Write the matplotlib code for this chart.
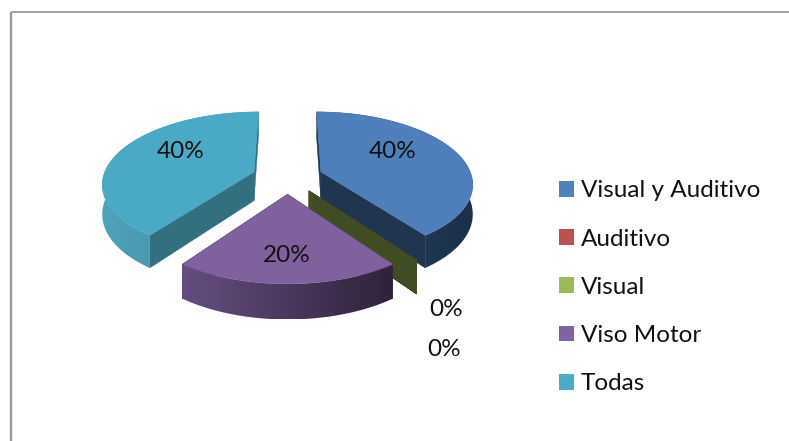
import numpy as np
import matplotlib
matplotlib.use('Agg')
import matplotlib.pyplot as plt
from matplotlib.colors import to_rgb
from matplotlib.patches import Patch, Polygon

# chart data
categories = ['Visual y Auditivo', 'Auditivo', 'Visual', 'Viso Motor', 'Todas']
values = [40, 0, 0, 20, 40]

# styles, one entry per slice
top_colors = ['#4f7fba', '#c0504d', '#9bbb59', '#7f619d', '#4aa9c4']
face_colors = ['#1f3550', '#5a2624', '#404d22', '#3a2a4a', '#32707f']
rim_left = ['#25466a', '#5a2624', '#404d22', '#654e80', '#4fa3bb']
rim_right = ['#1c3049', '#5a2624', '#404d22', '#30223b', '#3a8199']
legend_colors = ['#4f81bd', '#c0504d', '#9bbb59', '#8064a2', '#4bacc6']
label_xy = [(393, 151), (444, 349), (446, 309), (287, 255), (181, 151)]
draw_order = [4, 0, 1, 2, 3]

# projection of the pie plane into pixels
cx, cy = 287.5, 177
rx, ry = 151, 70.5
persp = 0.15
explode = 0.235
depth = 29


def project(u, v):
    s = 1 / (1 + persp * v)
    return cx + rx * u * s, cy - ry * v * s, depth * s


def ramp(c1, c2, n=64):
    a, b = np.array(to_rgb(c1)), np.array(to_rgb(c2))
    return (a + (b - a) * np.linspace(0, 1, n)[:, None])[None, :, :]


plt.rcParams['font.family'] = ['Lato', 'DejaVu Sans']
fig = plt.figure(figsize=(7.89, 4.41), dpi=100)
ax = fig.add_axes([0, 0, 1, 1])
ax.axis('off')

# chart border, only top and left are in the crop
ax.plot([11.5, 11.5], [441, 11.5], color='#999999', lw=1.7, solid_capstyle='butt')
ax.plot([11, 789], [11.5, 11.5], color='#8c8c8c', lw=1.1, solid_capstyle='butt')

edges = np.cumsum([0] + values) / sum(values) * 2 * np.pi

for rank, i in enumerate(draw_order):
    z = 2 + rank
    a0, a1 = edges[i], edges[i + 1]
    mid = (a0 + a1) / 2
    u0, v0 = explode * np.sin(mid), explode * np.cos(mid)
    theta = np.linspace(a0, a1, 120) if a1 > a0 else np.array([a0])
    arc = np.array([project(u0 + np.sin(t), v0 + np.cos(t)) for t in theta])
    apex = project(u0, v0)

    # the two cut faces
    for p in (arc[0], arc[-1]):
        quad = [(apex[0], apex[1]), (p[0], p[1]), (p[0], p[1] + p[2]), (apex[0], apex[1] + apex[2])]
        ax.add_patch(Polygon(quad, closed=True, fc=face_colors[i], ec=face_colors[i], lw=0.3, zorder=z))

    if len(arc) < 2:
        continue

    # outer rim, shaded from left to right
    outline = [(p[0], p[1]) for p in arc] + [(p[0], p[1] + p[2]) for p in arc[::-1]]
    clip = Polygon(outline, closed=True, transform=ax.transData, fc='none', ec='none')
    ax.add_patch(clip)
    pts = np.array(outline)
    im = ax.imshow(ramp(rim_left[i], rim_right[i]), aspect='auto', interpolation='bilinear', zorder=z,
                   extent=(pts[:, 0].min(), pts[:, 0].max(), pts[:, 1].max(), pts[:, 1].min()))
    im.set_clip_path(clip)

    # top surface
    top = [(apex[0], apex[1])] + [(p[0], p[1]) for p in arc]
    ax.add_patch(Polygon(top, closed=True, fc=top_colors[i], ec=top_colors[i], lw=0.3, zorder=z + 0.5))

ax.set_xlim(0, 789)
ax.set_ylim(441, 0)

for val, (x, y) in zip(values, label_xy):
    ax.text(x, y, f'{val}%', ha='center', va='center', fontsize=17.5, color='#111111', zorder=20)

handles = [Patch(fc=c, ec='none') for c in legend_colors]
ax.legend(handles, categories, loc='upper left', bbox_to_anchor=(552, 173),
          bbox_transform=ax.transData, frameon=False, fontsize=17.5,
          handlelength=0.62, handleheight=0.62, handletextpad=0.26,
          labelspacing=1.12, borderpad=0.3, borderaxespad=0, labelcolor='#111111')

fig.savefig('out.png', dpi=100)
